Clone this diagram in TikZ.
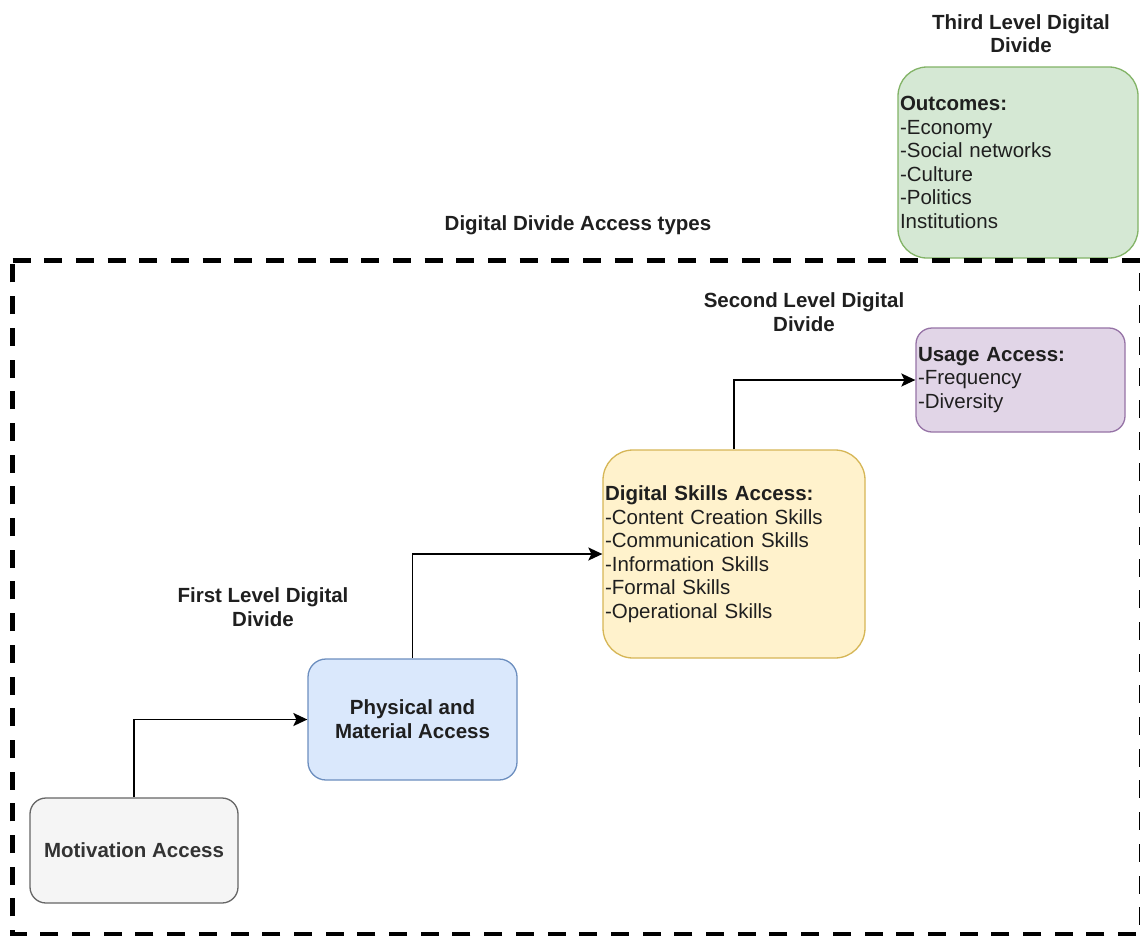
\documentclass[tikz,border=0pt]{standalone}
\usepackage{fontspec}
\setmainfont{Liberation Sans}
\usetikzlibrary{arrows.meta}
\definecolor{grayfill}{HTML}{F5F5F5}
\definecolor{graydraw}{HTML}{666666}
\definecolor{graytext}{HTML}{333333}
\definecolor{bluefill}{HTML}{DAE8FC}
\definecolor{bluedraw}{HTML}{6C8EBF}
\definecolor{yelfill}{HTML}{FFF2CC}
\definecolor{yeldraw}{HTML}{D6B656}
\definecolor{purfill}{HTML}{E1D5E7}
\definecolor{purdraw}{HTML}{9673A6}
\definecolor{grnfill}{HTML}{D5E8D4}
\definecolor{grndraw}{HTML}{82B366}
\definecolor{txt}{HTML}{1F1F1F}
\tikzset{
  x=1pt, y=-1pt,
  every node/.style={font=\fontsize{20.5}{23.5}\selectfont, text=txt},
  boxstyle/.style={draw, line width=1.3pt, inner sep=0pt},
  leftbox/.style={boxstyle, align=left, inner xsep=2pt, inner ysep=0pt},
  titlestyle/.style={font=\fontsize{20.5}{23.5}\selectfont\bfseries, align=center, text=txt},
  arr/.style={line width=1.8pt, -{Stealth[length=14pt,width=13pt,inset=3pt]}},
  border/.style={line width=4.5pt, dash pattern=on 18pt off 13.7pt}
}
\begin{document}
\begin{tikzpicture}
\useasboundingbox (0,0) rectangle (1140,935);
\fill[white] (0,0) rectangle (1140,935);

% boxes
\node[boxstyle, fill=grayfill, draw=graydraw, rounded corners=16pt,
      minimum width=208pt, minimum height=105pt, font=\fontsize{20.5}{23.5}\selectfont\bfseries, text=graytext]
      (mot) at (134,850.5) {Motivation Access};
\node[boxstyle, fill=bluefill, draw=bluedraw, rounded corners=18pt, align=center,
      minimum width=209pt, minimum height=121pt, font=\fontsize{20.5}{24}\selectfont\bfseries]
      (phys) at (412.5,719.5) {Physical and\\Material Access};
\node[leftbox, fill=yelfill, draw=yeldraw, rounded corners=30pt,
      text width=258pt, minimum height=208pt]
      (skill) at (734,554) {\textbf{Digital Skills Access:}\\-Content Creation Skills\\-Communication Skills\\-Information Skills\\-Formal Skills\\-Operational Skills};
\node[leftbox, fill=purfill, draw=purdraw, rounded corners=16pt,
      text width=205pt, minimum height=104pt]
      (usage) at (1020.5,380) {\textbf{Usage Access:}\\-Frequency\\-Diversity};
\node[leftbox, fill=grnfill, draw=grndraw, rounded corners=29pt,
      text width=236pt, minimum height=191pt]
      (outc) at (1018,162.5) {\textbf{Outcomes:}\\-Economy\\-Social networks\\-Culture\\-Politics\\Institutions};

% titles
\node[titlestyle] (t3) at (1021,33.5) {Third Level Digital\\Divide};
\node[titlestyle] (tacc) at (578,225) {Digital Divide Access types};
\node[titlestyle] (t2) at (804,312) {Second Level Digital\\Divide};
\node[titlestyle] (t1) at (263,607) {First Level Digital\\Divide};

% connectors
\draw[arr] (mot.north) |- (phys.west);
\draw[arr] (phys.north) |- (skill.west);
\draw[arr] (skill.north) |- (usage.west);

% dashed frame
\draw[border] (12.5,260.5) -- (1141,260.5) -- (1141,934) -- (12.5,934) -- cycle;
\end{tikzpicture}
\end{document}
